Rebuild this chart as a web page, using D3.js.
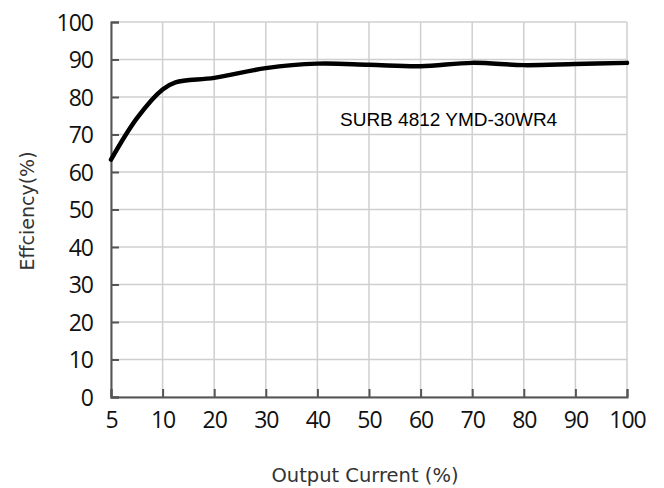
<!DOCTYPE html>
<html><head><meta charset="utf-8">
<script src="https://cdn.jsdelivr.net/npm/d3@7"></script>
<style>body{margin:0;background:#fff}svg{display:block}</style>
</head><body>
<svg id="c" width="664" height="488"></svg>
<script>
const xTicks = [5,10,20,30,40,50,60,70,80,90,100];
const yTicks = [0,10,20,30,40,50,60,70,80,90,100];
const current = [5,7.5,10,12.5,20,30,40,50,60,70,80,90,100];
const efficiency = [63.3,74.3,82.0,83.9,85.1,87.7,88.9,88.6,88.2,89.1,88.5,88.8,89.1];
const xTitle = "Output Current (%)";
const yTitle = "Effciency(%)";
const note = "SURB 4812 YMD-30WR4";

const L=111,R=627,T=22,B=397;
const svg=d3.select("#c");
const x=d3.scaleLinear().domain(xTicks).range(xTicks.map((d,i)=>L+(R-L)*i/(xTicks.length-1)));
const y=d3.scaleLinear().domain([0,100]).range([B,T]);

// grid
const g=svg.append("g");
g.selectAll(".vg").data(xTicks).join("line").attr("x1",d=>x(d)).attr("x2",d=>x(d)).attr("y1",T).attr("y2",B).attr("stroke","#cfcfcf").attr("stroke-width",1.5);
g.selectAll(".hg").data(yTicks).join("line").attr("y1",d=>y(d)).attr("y2",d=>y(d)).attr("x1",L).attr("x2",R).attr("stroke","#cfcfcf").attr("stroke-width",1.5);

// axes
const xa=svg.append("g").attr("transform",`translate(0,${B})`).call(d3.axisBottom(x).tickValues(xTicks).tickSize(-8).tickPadding(15).tickFormat(d3.format("d")));
const ya=svg.append("g").attr("transform",`translate(${L},0)`).call(d3.axisLeft(y).tickValues(yTicks).tickSize(-8).tickPadding(18).tickFormat(d3.format("d")));
[xa,ya].forEach(a=>{
  a.select(".domain").attr("stroke","#555").attr("stroke-width",2);
  a.selectAll(".tick line").attr("stroke","#555").attr("stroke-width",2);
  a.selectAll(".tick text").attr("fill","#111").style("font-family","'Open Sans'").style("font-size","23px").style("font-weight","400").style("letter-spacing","-1px");
});
xa.selectAll(".tick text").attr("dy","0.71em");
ya.selectAll(".tick text").attr("dy","0.35em");

// line
svg.append("path").datum(current.map((c,i)=>[c,efficiency[i]]))
  .attr("d",d3.line().x(d=>x(d[0])).y(d=>y(d[1])).curve(d3.curveCatmullRom.alpha(0.5)))
  .attr("fill","none").attr("stroke","#000").attr("stroke-width",4.5).attr("stroke-linecap","round");

svg.append("text").attr("x",340).attr("y",126).text(note).style("font-family","'Liberation Sans'").style("font-size","19px").attr("fill","#000");
svg.append("text").attr("x",365).attr("y",482).attr("text-anchor","middle").text(xTitle).style("font-family","'DejaVu Sans'").style("font-size","19.5px").attr("fill","#333");
svg.append("text").attr("transform","translate(34,211) rotate(-90)").attr("text-anchor","middle").text(yTitle).style("font-family","'DejaVu Sans'").style("font-size","19px").attr("fill","#333");
</script>
</body></html>
